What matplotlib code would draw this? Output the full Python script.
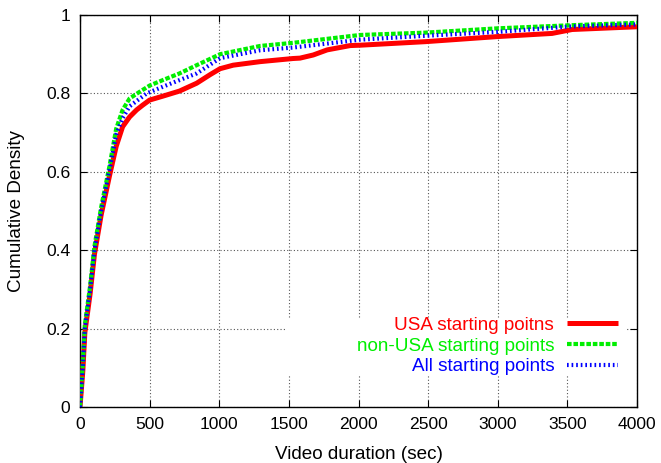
import matplotlib
matplotlib.use("Agg")
import matplotlib.pyplot as plt
from matplotlib.patches import Rectangle

plt.rcParams["font.family"] = ["Liberation Sans", "DejaVu Sans"]

# CDF of video duration, seconds vs cumulative fraction
usa_x = [0, 20, 35, 73, 104, 152, 212, 260, 306, 356, 407, 450, 500, 595, 715, 838, 935,
         1006, 1100, 1293, 1530, 1580, 1675, 1775, 1940, 2014, 2481, 3000, 3390, 3534, 4000]
usa_y = [0.0, 0.09, 0.19, 0.29, 0.39, 0.49, 0.59, 0.665, 0.715, 0.74, 0.758, 0.77, 0.783, 0.793,
         0.806, 0.826, 0.848, 0.863, 0.872, 0.881, 0.889, 0.89, 0.898, 0.911, 0.922, 0.923, 0.932,
         0.945, 0.953, 0.963, 0.970]

non_usa_x = [0, 20, 35, 73, 104, 152, 212, 260, 306, 356, 428, 500, 595, 715, 838, 1006,
             1293, 1530, 2010, 2481, 3000, 3534, 4000]
non_usa_y = [0.0, 0.11, 0.21, 0.31, 0.41, 0.51, 0.615, 0.71, 0.758, 0.787, 0.804, 0.82, 0.834,
             0.851, 0.872, 0.900, 0.921, 0.929, 0.949, 0.955, 0.966, 0.974, 0.980]

all_x = [0, 20, 35, 73, 104, 152, 212, 260, 306, 356, 479, 595, 715, 838, 1006,
         1293, 1530, 2010, 2481, 3000, 3534, 4000]
all_y = [0.0, 0.10, 0.20, 0.30, 0.40, 0.50, 0.605, 0.695, 0.737, 0.767, 0.80, 0.817, 0.834,
         0.851, 0.89, 0.91, 0.917, 0.937, 0.947, 0.957, 0.971, 0.976]

labels = ["USA starting poitns", "non-USA starting points", "All starting points"]
colors = ["#ff0000", "#00ee00", "#0000ff"]

fig = plt.figure(figsize=(6.61, 4.63), dpi=100)
ax = fig.add_axes([80 / 661, 1 - 407 / 463, 557 / 661, 392 / 463])

l1, = ax.plot(usa_x, usa_y, color=colors[0], lw=3.6, solid_capstyle="butt", zorder=3)
l2, = ax.plot(non_usa_x, non_usa_y, color=colors[1], lw=3.0, dashes=(1.1, 0.45), zorder=3)
l3, = ax.plot(all_x, all_y, color=colors[2], lw=3.0, dashes=(0.4, 0.7), zorder=4)

ax.set_xlim(0, 4000)
ax.set_ylim(0, 1)
ax.set_xticks(range(0, 4001, 500))
ax.set_yticks([0, 0.2, 0.4, 0.6, 0.8, 1])
ax.set_yticklabels(["0", "0.2", "0.4", "0.6", "0.8", "1"])
ax.grid(True, color="#555555", linestyle=(0, (1, 2)), linewidth=0.8)
ax.set_axisbelow(True)
ax.tick_params(direction="in", length=5, width=0.8, top=True, right=True,
               labelsize=12.6, pad=7)
for s in ax.spines.values():
    s.set_linewidth(1.0)

ax.set_xlabel("Video duration (sec)", fontsize=13.6, labelpad=10)
ax.set_ylabel("Cumulative Density", fontsize=13.6, labelpad=15)

# white key box behind the legend
ax.add_patch(Rectangle(((287 - 80) / 557, (407 - 375) / 392), 340 / 557, 57 / 392,
                       transform=ax.transAxes, facecolor="white", edgecolor="none",
                       zorder=1.5))

leg = ax.legend([l1, l2, l3], labels, loc="lower right",
                bbox_to_anchor=((620 - 80) / 557 + 0.004, (407 - 379) / 392),
                markerfirst=False, frameon=False, fontsize=13.6, handlelength=2.7,
                handletextpad=0.7, labelspacing=0.18, borderpad=0.2, borderaxespad=0)
for t, c in zip(leg.get_texts(), colors):
    t.set_color(c)

fig.savefig("out.png", dpi=100)
